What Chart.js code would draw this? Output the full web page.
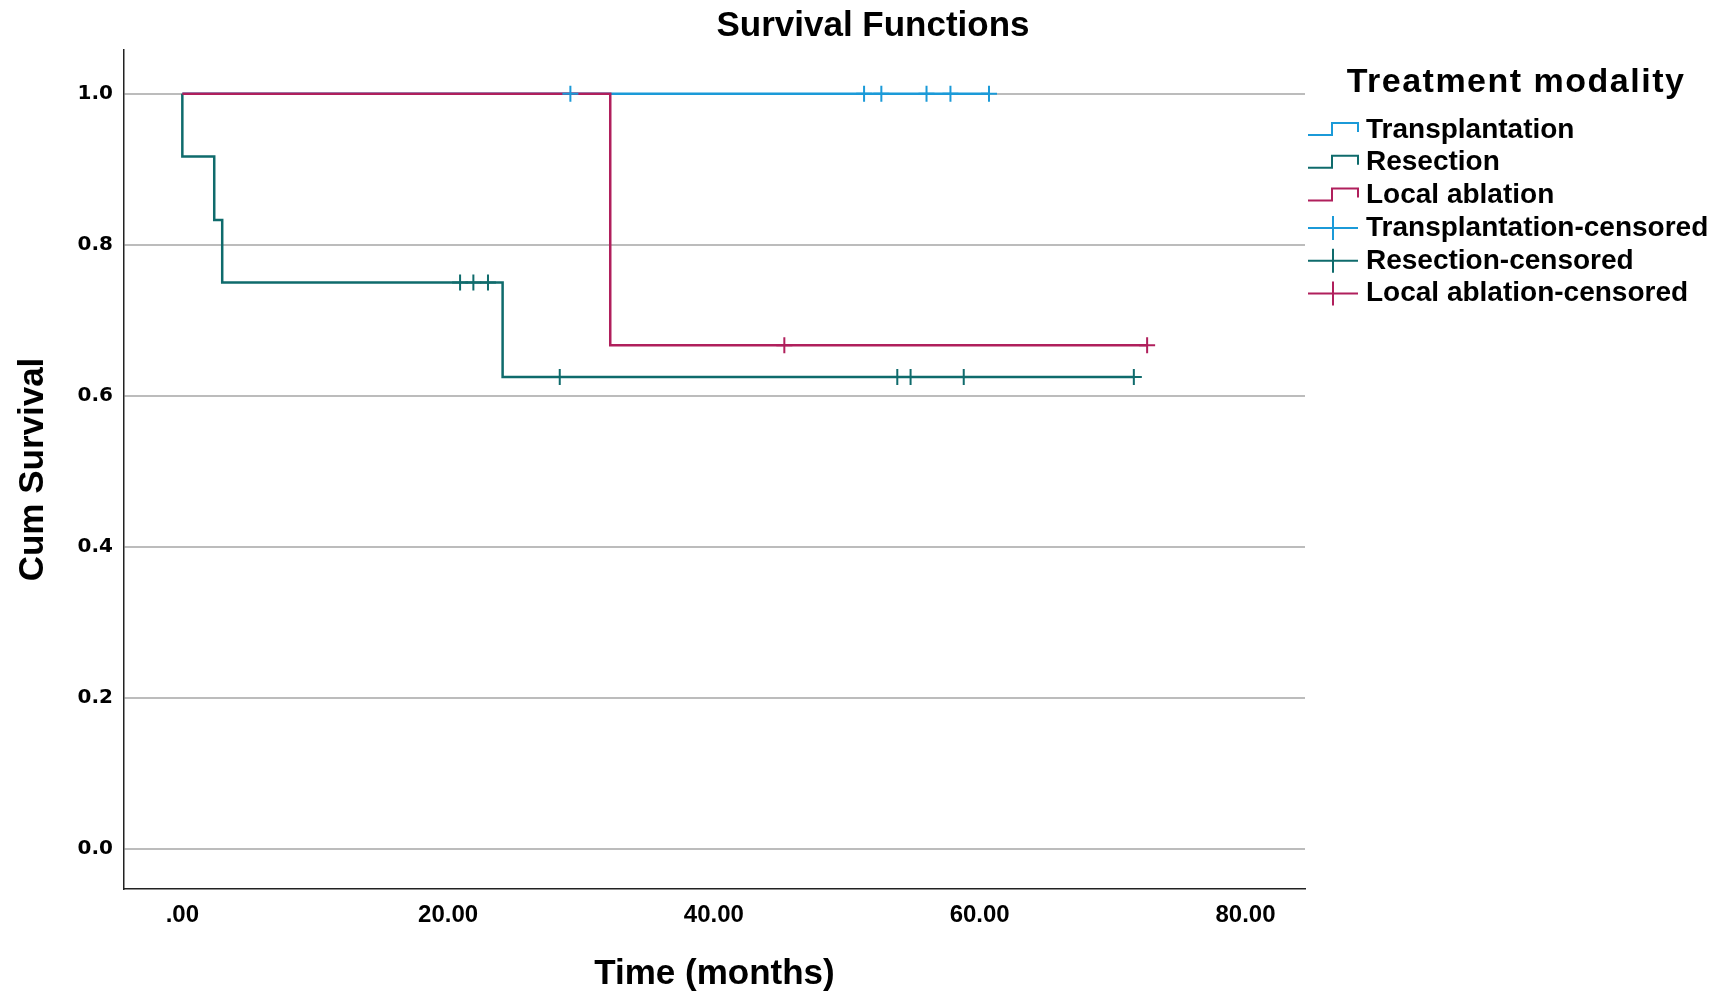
<!DOCTYPE html>
<html>
<head>
  <title>Survival Functions</title>
  <script src="https://cdn.jsdelivr.net/npm/chart.js"></script>
  <style>
    body { margin: 0; background: #fff; }
  </style>
</head>
<body>
  <canvas id="survChart" width="1729" height="995"></canvas>

  <script>
    // ====================
    // Data
    // ====================
    const chartTitle = 'Survival Functions';
    const legendTitle = 'Treatment modality';
    const groups = ['Transplantation', 'Resection', 'Local ablation'];

    // step curves: time (months) and cumulative survival after each step
    const transplantTimes = [0, 60.7];
    const transplantSurv  = [1, 1];
    const resectionTimes  = [0, 0, 2.4, 3.0, 24.1, 71.6];
    const resectionSurv   = [1, 0.917, 0.833, 0.75, 0.625, 0.625];
    const ablationTimes   = [0, 32.2, 72.6];
    const ablationSurv    = [1, 0.667, 0.667];

    // censored cases
    const transplantCensTimes = [29.2, 51.3, 52.6, 56.0, 57.8, 60.7];
    const transplantCensSurv  = [1, 1, 1, 1, 1, 1];
    const resectionCensTimes  = [20.9, 21.9, 23.0, 28.4, 53.8, 54.8, 58.8, 71.6];
    const resectionCensSurv   = [0.75, 0.75, 0.75, 0.625, 0.625, 0.625, 0.625, 0.625];
    const ablationCensTimes   = [45.3, 72.6];
    const ablationCensSurv    = [0.667, 0.667];

    // axes
    const xTickValues = [0, 20, 40, 60, 80];
    const xTickLabels = ['.00', '20.00', '40.00', '60.00', '80.00'];
    const yTickValues = [0, 0.2, 0.4, 0.6, 0.8, 1.0];
    const yTickLabels = ['0.0', '0.2', '0.4', '0.6', '0.8', '1.0'];

    const colors = ['#1b9ad8', '#0f6b6c', '#b01f5c'];
    const FONT = '"Liberation Sans", Arial, sans-serif';

    const pts = (xs, ys) => xs.map((x, i) => ({ x: x, y: ys[i] }));

    function curve(label, xs, ys, color, order) {
      return {
        label: label,
        data: pts(xs, ys),
        showLine: true,
        stepped: true,
        borderColor: color,
        borderWidth: 2.5,
        pointRadius: 0,
        fill: false,
        order: order
      };
    }

    function censored(label, xs, ys, color) {
      return {
        label: label + '-censored',
        data: pts(xs, ys),
        showLine: false,
        pointStyle: 'cross',
        pointRadius: 8,
        pointBorderWidth: 2,
        pointBorderColor: color,
        pointBackgroundColor: color,
        order: 0
      };
    }

    // title + legend drawn by hand (SPSS style symbols)
    const decor = {
      id: 'decor',
      afterDraw(chart) {
        const ctx = chart.ctx;
        ctx.save();
        ctx.fillStyle = '#000';
        ctx.textBaseline = 'middle';

        ctx.textAlign = 'center';
        ctx.font = 'bold 35px ' + FONT;
        ctx.fillText(chartTitle, 873, 26);

        ctx.letterSpacing = '1.5px';
        ctx.font = 'bold 34px ' + FONT;
        ctx.fillText(legendTitle, 1516, 83);
        ctx.letterSpacing = '0px';

        ctx.textAlign = 'left';
        ctx.font = 'bold 28px ' + FONT;
        ctx.lineWidth = 2;

        groups.forEach((g, i) => {
          const y = 130 + i * 32.7;
          ctx.strokeStyle = colors[i];
          ctx.beginPath();
          ctx.moveTo(1308, y + 5);
          ctx.lineTo(1332, y + 5);
          ctx.lineTo(1332, y - 7);
          ctx.lineTo(1358, y - 7);
          ctx.lineTo(1358, y + 2);
          ctx.stroke();
          ctx.fillText(g, 1366, y);
        });

        groups.forEach((g, i) => {
          const y = 130 + (i + 3) * 32.7;
          ctx.strokeStyle = colors[i];
          ctx.beginPath();
          ctx.moveTo(1308, y);
          ctx.lineTo(1358, y);
          ctx.moveTo(1333, y - 12);
          ctx.lineTo(1333, y + 12);
          ctx.stroke();
          ctx.fillText(g + '-censored', 1366, y);
        });
        ctx.restore();
      }
    };

    new Chart(document.getElementById('survChart'), {
      type: 'scatter',
      data: {
        datasets: [
          curve(groups[0], transplantTimes, transplantSurv, colors[0], 3),
          curve(groups[1], resectionTimes, resectionSurv, colors[1], 2),
          curve(groups[2], ablationTimes, ablationSurv, colors[2], 1),
          censored(groups[0], transplantCensTimes, transplantCensSurv, colors[0]),
          censored(groups[1], resectionCensTimes, resectionCensSurv, colors[1]),
          censored(groups[2], ablationCensTimes, ablationCensSurv, colors[2])
        ]
      },
      options: {
        responsive: false,
        devicePixelRatio: 1,
        animation: false,
        events: [],
        layout: { padding: { left: 0, top: 50, right: 424, bottom: 0 } },
        plugins: {
          legend: { display: false },
          tooltip: { enabled: false }
        },
        scales: {
          x: {
            type: 'linear',
            min: -4.39,
            max: 84.48,
            afterBuildTicks: s => { s.ticks = xTickValues.map(v => ({ value: v })); },
            afterFit: s => { s.height = 106; },
            ticks: {
              callback: (v, i) => xTickLabels[i],
              color: '#000',
              font: { family: FONT, size: 24, weight: 'bold' },
              padding: 12,
              maxRotation: 0,
              autoSkip: false
            },
            grid: { display: false, drawTicks: false },
            border: { display: true, color: '#222', width: 1.5 },
            title: {
              display: true,
              text: 'Time (months)',
              color: '#000',
              font: { family: FONT, size: 35, weight: 'bold', lineHeight: 1 },
              padding: { top: 0, bottom: 3 }
            }
          },
          y: {
            min: -0.053,
            max: 1.058,
            afterBuildTicks: s => { s.ticks = yTickValues.map(v => ({ value: v })); },
            afterFit: s => { s.width = 124; },
            ticks: {
              callback: (v, i) => yTickLabels[i],
              color: '#000',
              font: { family: '"DejaVu Sans", sans-serif', size: 20, weight: 'bold' },
              padding: 11
            },
            grid: { color: '#bcbcbc', lineWidth: 2, drawTicks: false },
            border: { display: true, color: '#222', width: 1.5 },
            title: {
              display: true,
              text: 'Cum Survival',
              color: '#000',
              font: { family: FONT, size: 35, weight: 'bold', lineHeight: 1 },
              padding: { top: 16, bottom: 0 }
            }
          }
        }
      },
      plugins: [decor]
    });
  </script>
</body>
</html>
